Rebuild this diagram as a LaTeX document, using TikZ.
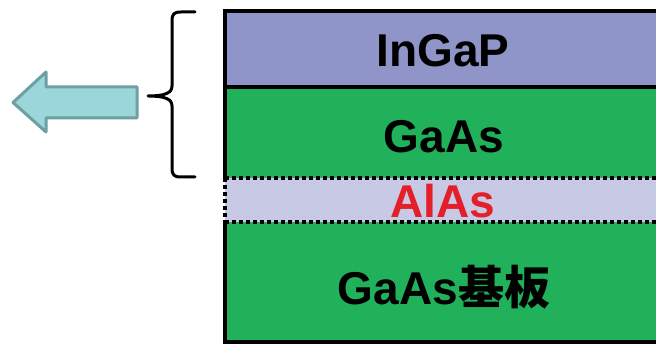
\documentclass[tikz,border=0pt]{standalone}
\usepackage{fontspec}
\setmainfont{Liberation Sans}
\newfontfamily\cjk{Noto Sans CJK JP}
\definecolor{ingapc}{HTML}{8F95C8}
\definecolor{gaasc}{HTML}{21B15B}
\definecolor{alasc}{HTML}{C8C9E5}
\definecolor{redc}{HTML}{E3202A}
\definecolor{arrfill}{HTML}{9BD6DA}
\definecolor{arrline}{HTML}{6D9FA3}
\begin{document}
\begin{tikzpicture}[x=1pt,y=1pt,
  lbl/.style={font=\fontsize{46}{50}\selectfont\bfseries, anchor=base, inner sep=0pt},
  border/.style={line width=4pt, black},
  dashb/.style={line width=3.5pt, black, dash pattern=on 4pt off 3pt},
  brace/.style={line width=3pt, black, line cap=round, line join=round},
  bigarrow/.style={line width=3pt, draw=arrline, fill=arrfill, line join=round}]
\useasboundingbox (0,0) rectangle (656,344);
% layer fills
\fill[ingapc] (225,333) rectangle (664,257);
\fill[gaasc] (225,257) rectangle (664,166);
\fill[alasc] (225,166) rectangle (664,122);
\fill[gaasc] (225,122) rectangle (664,2);
% borders
\draw[border] (664,333) -- (225,333) -- (225,166);
\draw[border] (225,122) -- (225,2) -- (664,2);
\draw[border] (225,257) -- (664,257);
\draw[dashb] (225,166) -- (664,166);
\draw[dashb] (225,122) -- (664,122);
\draw[dashb] (225,166) -- (225,122);
% labels
\node[lbl] (ingap) at (443,277) {InGaP};
\node[lbl] (gaas) at (444,191) {GaAs};
\node[lbl, text=redc] (alas) at (443,126) {AlAs};
\node[lbl] (sub) at (444,39) {GaAs{\cjk\bfseries 基板}};
% brace
\coordinate (btop) at (195,332);
\coordinate (bbot) at (195,167);
\coordinate (btip) at (148,248);
\draw[brace] (btop) -- (181,332) .. controls (174,332) and (172,330) .. (172,323)
  -- (172,258) .. controls (172,251) and (165,248) .. (btip)
  .. controls (165,248) and (172,245) .. (172,238)
  -- (172,176) .. controls (172,169) and (174,167) .. (181,167) -- (bbot);
% arrow
\draw[bigarrow] (137,257) -- (46,257) -- (46,272) -- (13,241.5) -- (46,212) -- (46,226) -- (137,226) -- cycle;
\end{tikzpicture}
\end{document}
